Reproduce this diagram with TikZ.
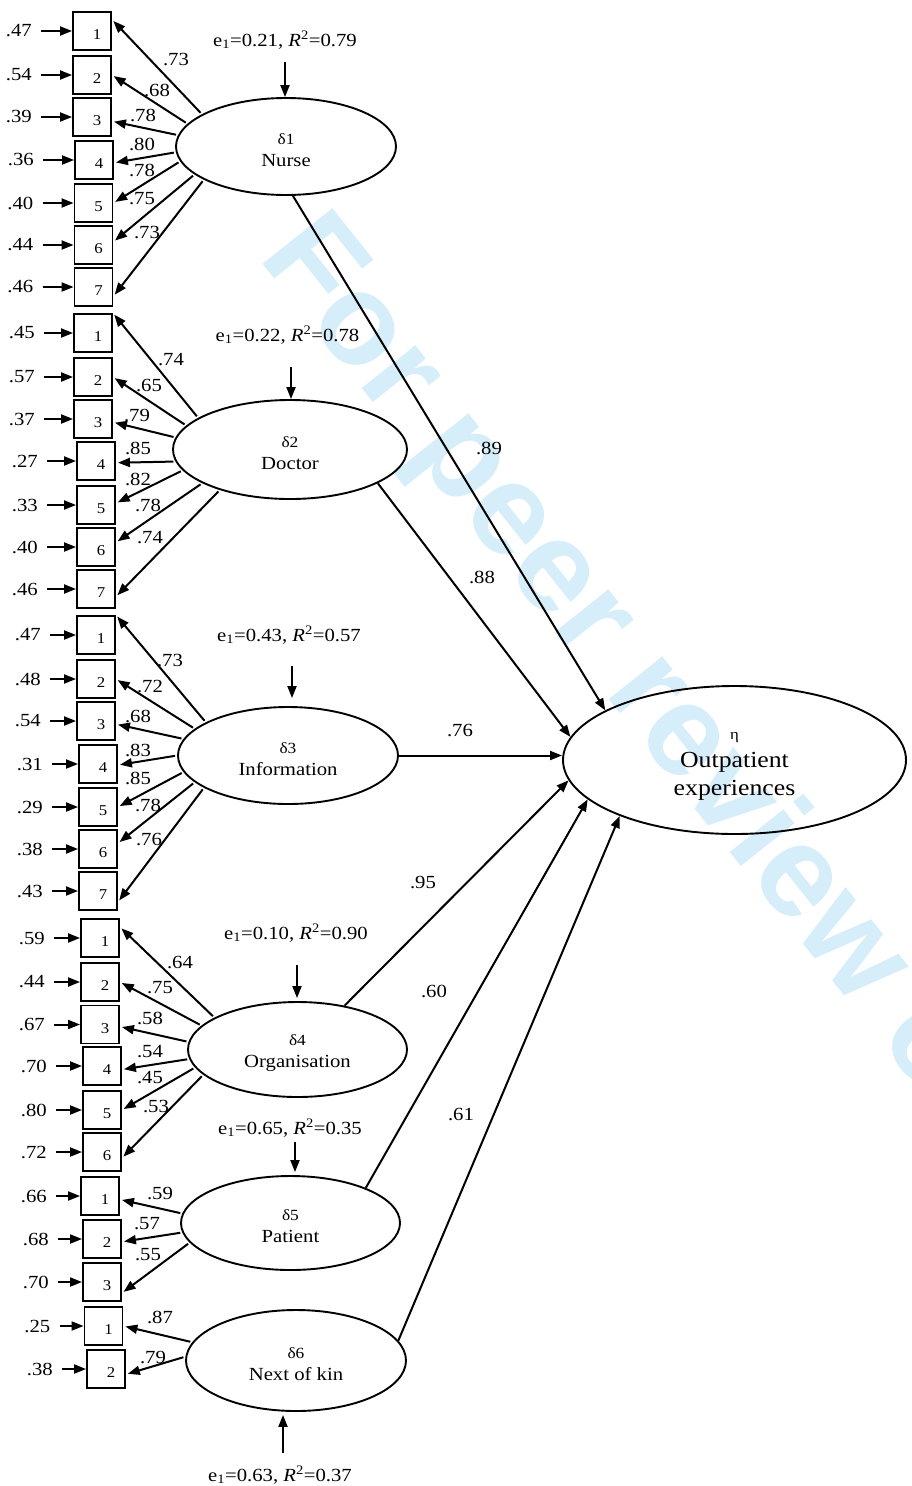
\documentclass[tikz,border=0pt]{standalone}
\usepackage{fontspec}
\setmainfont{Liberation Serif}[FakeStretch=1.12]
\newfontfamily\wmfont{Liberation Sans}
\usetikzlibrary{shapes.geometric,arrows.meta}
\definecolor{wmblue}{RGB}{214,238,250}
\tikzset{
  arr/.style={line width=2pt, -{Triangle[length=12pt,width=9pt]}},
  obs/.style={draw, line width=1.9pt, minimum width=38pt, minimum height=38pt, inner sep=0},
  numlab/.style={font=\fontsize{15}{18}\selectfont, inner sep=0, xshift=5pt, yshift=-4pt},
  lab/.style={font=\fontsize{18.5}{22}\selectfont, inner sep=0},
  lat/.style={ellipse, draw, line width=1.9pt, inner sep=0, align=center, font=\fontsize{18.5}{22}\selectfont},
  load/.style={arr, shorten <=2pt, shorten >=2pt},
  wmark/.style={font=\wmfont\bfseries\fontsize{130}{130}\selectfont, text=wmblue, inner sep=0}
}
\newcommand\dl[1]{{\fontsize{15.5}{18}\selectfont\rule{0pt}{18pt}#1}}
% name, x, y, number, error label, offset
\newcommand\obsv[6]{%
  \node[obs, label={[numlab]center:#4}] (#1) at (#2,#3) {};
  \node[lab, anchor=east] (#1e) at ([xshift=-#6pt]#1.west) {#5};
  \draw[arr, shorten <=9pt] (#1e) -- (#1);
}
% from, to, label position, label, label name
\newcommand\ldg[5]{%
  \draw[load] (#1) -- (#2);
  \node[lab] (#5) at (#3) {#4};
}
\begin{document}
\begin{tikzpicture}[x=1pt,y=-1pt]
\useasboundingbox (0,0) rectangle (911,1486);
\fill[white] (0,0) rectangle (911,1486);
\begin{scope}
  \clip (0,0) rectangle (911,1486);
  \node[wmark, rotate=-51.5, anchor=base west] (wm) at (257,257.5) {For peer review only};
\end{scope}

% latent variables
\node[lat, minimum width=220pt, minimum height=97pt] (N) at (286,146.5) {\dl{δ1}\\Nurse};
\node[lat, minimum width=234pt, minimum height=99pt] (D) at (290,449.5) {\dl{δ2}\\Doctor};
\node[lat, minimum width=220pt, minimum height=97pt] (I) at (288,755.5) {\dl{δ3}\\Information};
\node[lat, minimum width=219pt, minimum height=95pt] (O) at (297.5,1049.5) {\dl{δ4}\\Organisation};
\node[lat, minimum width=219pt, minimum height=94pt] (P) at (290.5,1223) {\dl{δ5}\\Patient};
\node[lat, minimum width=220pt, minimum height=101pt] (K) at (296,1360.5) {\dl{δ6}\\Next of kin};
\node[lat, minimum width=343pt, minimum height=148pt, font=\fontsize{23}{28}\selectfont] (eta) at (734.5,760) {{\fontsize{15}{18}\selectfont\rule{0pt}{19pt}η}\\Outpatient\\experiences};

% disturbances
\node[lab] (Ne) at (285,40) {e\textsubscript{1}=0.21, \textit{R}\textsuperscript{2}=0.79};
\coordinate (Nd) at (285,62);
\draw[arr] (Nd) -- (Nd |- N.north);
\node[lab] (De) at (287.5,335) {e\textsubscript{1}=0.22, \textit{R}\textsuperscript{2}=0.78};
\coordinate (Dd) at (291,367);
\draw[arr] (Dd) -- (Dd |- D.north);
\node[lab] (Ie) at (289,635) {e\textsubscript{1}=0.43, \textit{R}\textsuperscript{2}=0.57};
\coordinate (Id) at (292,666);
\draw[arr, shorten >=8pt] (Id) -- (Id |- I.north);
\node[lab] (Oe) at (296,933) {e\textsubscript{1}=0.10, \textit{R}\textsuperscript{2}=0.90};
\coordinate (Od) at (297,965);
\draw[arr, shorten >=3pt] (Od) -- (Od |- O.north);
\node[lab] (Pe) at (290,1128) {e\textsubscript{1}=0.65, \textit{R}\textsuperscript{2}=0.35};
\coordinate (Pd) at (295,1142);
\draw[arr, shorten >=3pt] (Pd) -- (Pd |- P.north);
\node[lab] (Ke) at (280,1475) {e\textsubscript{1}=0.63, \textit{R}\textsuperscript{2}=0.37};
\coordinate (Kd) at (283,1453);
\draw[arr, shorten >=3pt] (Kd) -- (Kd |- K.south);

% indicators: Nurse
\obsv{a1}{92}{31}{1}{.47}{40}
\obsv{a2}{92}{75}{2}{.54}{40}
\obsv{a3}{92}{117}{3}{.39}{40}
\obsv{a4}{94}{160}{4}{.36}{40}
\obsv{a5}{93.5}{203}{5}{.40}{40}
\obsv{a6}{93.5}{245}{6}{.44}{40}
\obsv{a7}{93.5}{287}{7}{.46}{40}
% Doctor
\obsv{b1}{93}{333}{1}{.45}{38}
\obsv{b2}{93}{377}{2}{.57}{38}
\obsv{b3}{93}{419}{3}{.37}{38}
\obsv{b4}{96}{461}{4}{.27}{38}
\obsv{b5}{96}{505}{5}{.33}{38}
\obsv{b6}{96}{547}{6}{.40}{38}
\obsv{b7}{96}{589}{7}{.46}{38}
% Information
\obsv{c1}{96}{635}{1}{.47}{35}
\obsv{c2}{96}{679}{2}{.48}{35}
\obsv{c3}{96}{721}{3}{.54}{35}
\obsv{c4}{98}{764}{4}{.31}{35}
\obsv{c5}{98}{807}{5}{.29}{35}
\obsv{c6}{98}{849}{6}{.38}{35}
\obsv{c7}{98}{891}{7}{.43}{35}
% Organisation
\obsv{d1}{100}{938}{1}{.59}{35}
\obsv{d2}{100}{982}{2}{.44}{35}
\obsv{d3}{100}{1024.5}{3}{.67}{35}
\obsv{d4}{102}{1066}{4}{.70}{35}
\obsv{d5}{102}{1110}{5}{.80}{35}
\obsv{d6}{102}{1152}{6}{.72}{35}
% Patient
\obsv{f1}{100}{1196}{1}{.66}{33}
\obsv{f2}{102}{1239}{2}{.68}{33}
\obsv{f3}{102}{1282}{3}{.70}{33}
% Next of kin
\obsv{g1}{103.5}{1326}{1}{.25}{33}
\obsv{g2}{106}{1369}{2}{.38}{33}

% loadings
\ldg{N.159}{a1.30}{176,60}{.73}{la1}
\ldg{N.167}{a2.east}{157,90}{.68}{la2}
\ldg{N.174}{a3.-12}{143,115}{.78}{la3}
\ldg{N.183}{a4.-8}{142,144}{.80}{la4}
\ldg{N.188}{a5.east}{142,170}{.78}{la5}
\ldg{N.197}{a6.9}{142,199}{.75}{la6}
\ldg{N.202}{a7.-25}{147,233}{.73}{la7}

\ldg{D.161}{b1.north east}{171,360}{.74}{lb1}
\ldg{D.167}{b2.east}{149,385}{.65}{lb2}
\ldg{D.174}{b3.-9}{137,415}{.79}{lb3}
\ldg{D.186}{b4.-5}{138,448}{.85}{lb4}
\ldg{D.191}{b5.5}{138,479}{.82}{lb5}
\ldg{D.201}{b6.13}{148,505}{.78}{lb6}
\ldg{D.210}{b7.-21}{150,538}{.74}{lb7}

\ldg{I.158}{c1.north east}{170,660}{.73}{lc1}
\ldg{I.164}{c2.east}{150,686}{.72}{lc2}
\ldg{I.171}{c3.-9}{138,716}{.68}{lc3}
\ldg{I.180}{c4.-3}{138,750}{.83}{lc4}
\ldg{I.189}{c5.east}{138,778}{.85}{lc5}
\ldg{I.196}{c6.16}{148,805}{.78}{lc6}
\ldg{I.201}{c7.-29}{149,839}{.76}{lc7}

\ldg{O.159}{d1.29}{180,962}{.64}{ld1}
\ldg{O.166}{d2.east}{160,988}{.75}{ld2}
\ldg{O.176}{d3.-6}{150,1018}{.58}{ld3}
\ldg{O.185}{d4.-10}{150,1052}{.54}{ld4}
\ldg{O.190}{d5.east}{150,1078}{.45}{ld5}
\ldg{O.195}{d6.-17}{156,1106}{.53}{ld6}

\ldg{P.175}{f1.-10}{160,1193}{.59}{lf1}
\ldg{P.185}{f2.-8}{147,1224}{.57}{lf2}
\ldg{P.191}{f3.-29}{148,1255}{.55}{lf3}

\ldg{K.170}{g1.east}{160,1317}{.87}{lg1}
\ldg{K.178}{g2.-15}{153,1357}{.79}{lg2}

% structural paths
\draw[arr] (N.-82) -- (eta.159);
\node[lab] (p1) at (489,448) {.89};
\draw[arr] (D.-21) -- (eta.172);
\node[lab] (p2) at (482,577) {.88};
\draw[arr] (I.east) -- (I.east -| eta.west);
\node[lab] (p3) at (460,730) {.76};
\draw[arr] (O.43) -- (eta.187);
\node[lab] (p4) at (423,882) {.95};
\draw[arr] (P.25) -- (eta.195);
\node[lab] (p5) at (434,991) {.60};
\draw[arr] (K.11) -- (eta.206);
\node[lab] (p6) at (461,1114) {.61};
\end{tikzpicture}
\end{document}
